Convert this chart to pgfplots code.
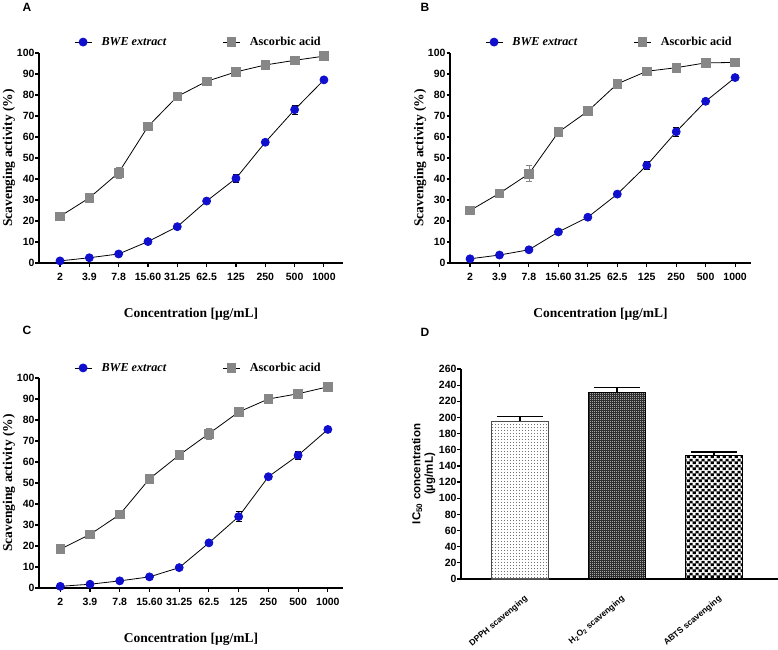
\documentclass[border=0pt]{standalone}
\usepackage{fontspec}
\setmainfont{Liberation Serif}
\setsansfont{Liberation Sans}
\usepackage{pgfplots}
\pgfplotsset{compat=1.18}
\usetikzlibrary{patterns}

\definecolor{bweblue}{RGB}{15,15,205}
\definecolor{aagray}{RGB}{135,135,135}

\pgfdeclarepatterninherentlycolored{dpphpat}{\pgfpointorigin}{\pgfpoint{3pt}{3pt}}{\pgfpoint{3pt}{3pt}}{%
  \pgfsetfillcolor{white}\pgfpathrectangle{\pgfpointorigin}{\pgfpoint{3pt}{3pt}}\pgfusepath{fill}%
  \pgfsetfillcolor{black!55}\pgfpathrectangle{\pgfpointorigin}{\pgfpoint{1.1pt}{1.1pt}}\pgfusepath{fill}}
\pgfdeclarepatterninherentlycolored{h2o2pat}{\pgfpointorigin}{\pgfpoint{2.4pt}{2.4pt}}{\pgfpoint{2.4pt}{2.4pt}}{%
  \pgfsetfillcolor{black!82}\pgfpathrectangle{\pgfpointorigin}{\pgfpoint{2.4pt}{2.4pt}}\pgfusepath{fill}%
  \pgfsetfillcolor{black!35}\pgfpathrectangle{\pgfpointorigin}{\pgfpoint{1.2pt}{1.2pt}}\pgfusepath{fill}}
\pgfdeclarepatterninherentlycolored{abtspat}{\pgfpointorigin}{\pgfpoint{6pt}{6pt}}{\pgfpoint{6pt}{6pt}}{%
  \pgfsetfillcolor{black}\pgfpathrectangle{\pgfpointorigin}{\pgfpoint{6pt}{6pt}}\pgfusepath{fill}%
  \pgfsetfillcolor{white}\pgfpathrectangle{\pgfpointorigin}{\pgfpoint{3pt}{3pt}}\pgfusepath{fill}%
  \pgfpathrectangle{\pgfpoint{3pt}{3pt}}{\pgfpoint{3pt}{3pt}}\pgfusepath{fill}}

\pgfplotsset{
  linepanel/.style={
    anchor=south west, scale only axis, height=210pt,
    axis x line=bottom, axis y line=left,
    axis line style={-, line width=1.3pt},
    ymin=0, ymax=100, ytick={0,10,...,100}, xtick={0,...,9},
    xticklabels={2,3.9,7.8,15.60,31.25,62.5,125,250,500,1000},
    tick align=outside, major tick length=3.5pt,
    tick style={line width=1.1pt, black},
    ticklabel style={font=\fontsize{10.5}{12}\selectfont\sffamily\bfseries},
    xticklabel style={yshift=-3pt},
    yticklabel style={xshift=2.5pt},
    /pgf/number format/assume math mode=true,
    xlabel={Concentration [µg/mL]}, ylabel={Scavenging activity (\%)},
    every axis x label/.style={at={(axis description cs:0.5,0)}, anchor=center, yshift=-51pt,
      font=\fontsize{13.5}{15}\selectfont\bfseries},
    every axis y label/.style={at={(axis description cs:-0.099,0.5)}, rotate=90, anchor=center,
      font=\fontsize{13.5}{15}\selectfont\bfseries},
    legend columns=2,
    legend style={draw=none, fill=none, inner sep=0pt, anchor=west,
      font=\fontsize{12.2}{14}\selectfont\bfseries,
      /tikz/every odd column/.append style={column sep=7.5pt},
      /tikz/every even column/.append style={column sep=54pt}},
    clip=false,
  },
  bwe/.style={black, line width=0.8pt, mark=*, mark size=4pt,
    mark options={fill=bweblue, draw=bweblue},
    error bars/.cd, y dir=both, y explicit,
    error bar style={black, line width=0.8pt},
    error mark options={rotate=90, black, mark size=3pt, line width=0.8pt}},
  aa/.style={black, line width=0.8pt, mark=square*, mark size=4.3pt,
    mark options={fill=aagray, draw=aagray},
    error bars/.cd, y dir=both, y explicit,
    error bar style={aagray, line width=0.8pt},
    error mark options={rotate=90, aagray, mark size=3pt, line width=0.8pt}},
}

\begin{document}
\begin{tikzpicture}
\useasboundingbox (0pt,0pt) rectangle (778pt,649pt);

% Panel letters
\node[font=\fontsize{12}{14}\selectfont\sffamily\bfseries] at (27pt,642pt) {A};
\node[font=\fontsize{12}{14}\selectfont\sffamily\bfseries] at (425pt,642pt) {B};
\node[font=\fontsize{12}{14}\selectfont\sffamily\bfseries] at (27pt,319pt) {C};
\node[font=\fontsize{12}{14}\selectfont\sffamily\bfseries] at (425pt,317pt) {D};

% ---------- A ----------
\begin{axis}[linepanel, at={(39pt,386pt)}, width=304pt, xmin=-0.716, xmax=9.65,
  legend style={at={(0.115,1.052)}}]
\addplot[bwe] coordinates {
 (0,1.0) +- (0,0) (1,2.5) +- (0,0) (2,4.3) +- (0,0) (3,10.2) +- (0,0) (4,17.3) +- (0,0)
 (5,29.5) +- (0,0) (6,40.3) +- (0,2.0) (7,57.5) +- (0,0) (8,73.0) +- (0,2.0) (9,87.2) +- (0,0)};
\addplot[aa] coordinates {
 (0,22.2) +- (0,0) (1,31.0) +- (0,0) (2,43.0) +- (0,2.5) (3,65.0) +- (0,0) (4,79.3) +- (0,0)
 (5,86.5) +- (0,0) (6,91.0) +- (0,0) (7,94.3) +- (0,0) (8,96.5) +- (0,0) (9,98.5) +- (0,0)};
\legend{\textit{BWE extract}, Ascorbic acid}
\end{axis}

% ---------- B ----------
\begin{axis}[linepanel, at={(450pt,386pt)}, width=301pt, xmin=-0.68, xmax=9.54,
  legend style={at={(0.116,1.052)}}]
\addplot[bwe] coordinates {
 (0,2.0) +- (0,0) (1,3.8) +- (0,0) (2,6.3) +- (0,0) (3,14.8) +- (0,0) (4,21.8) +- (0,0)
 (5,32.8) +- (0,0) (6,46.5) +- (0,2.0) (7,62.5) +- (0,2.0) (8,77.0) +- (0,0) (9,88.3) +- (0,0)};
\addplot[aa] coordinates {
 (0,25.0) +- (0,0) (1,33.2) +- (0,0) (2,42.5) +- (0,3.8) (3,62.3) +- (0,0) (4,72.3) +- (0,2.0)
 (5,85.3) +- (0,0) (6,91.3) +- (0,0) (7,93.0) +- (0,0) (8,95.3) +- (0,0) (9,95.5) +- (0,0)};
\legend{\textit{BWE extract}, Ascorbic acid}
\end{axis}

% ---------- C ----------
\begin{axis}[linepanel, at={(39pt,61pt)}, width=304pt, xmin=-0.716, xmax=9.51,
  legend style={at={(0.115,1.048)}}]
\addplot[bwe] coordinates {
 (0,0.8) +- (0,0) (1,1.8) +- (0,0) (2,3.4) +- (0,0) (3,5.3) +- (0,0) (4,9.7) +- (0,0)
 (5,21.5) +- (0,0) (6,34.0) +- (0,2.5) (7,53.0) +- (0,0) (8,63.2) +- (0,2.0) (9,75.5) +- (0,0)};
\addplot[aa] coordinates {
 (0,18.5) +- (0,0) (1,25.5) +- (0,0) (2,35.0) +- (0,0) (3,52.0) +- (0,0) (4,63.3) +- (0,0)
 (5,73.5) +- (0,2.5) (6,83.8) +- (0,0) (7,90.0) +- (0,0) (8,92.5) +- (0,0) (9,95.8) +- (0,0)};
\legend{\textit{BWE extract}, Ascorbic acid}
\end{axis}

% ---------- D ----------
\begin{axis}[at={(461pt,70pt)}, anchor=south west, scale only axis,
  width=317pt, height=210pt,
  axis x line=bottom, axis y line=left,
  axis line style={-, line width=1.6pt},
  xmin=-0.608, xmax=2.66, ymin=0, ymax=260, ytick={0,20,...,260},
  xtick={0,1,2},
  xticklabels={DPPH scavenging, H\textsubscript{2}O\textsubscript{2} scavenging, ABTS scavenging},
  tick align=outside, major tick length=4pt,
  ytick style={line width=1.2pt, black}, xtick style={draw=none},
  yticklabel style={font=\fontsize{10.5}{12}\selectfont\sffamily\bfseries, xshift=3pt},
  xticklabel style={font=\fontsize{8.5}{10}\selectfont\sffamily\bfseries, rotate=40, anchor=north east, xshift=-1pt, yshift=-8pt},
  /pgf/number format/assume math mode=true,
  ylabel={IC\textsubscript{50} concentration\\(µg/mL)},
  every axis y label/.style={at={(axis description cs:-0.118,0.5)}, rotate=90, anchor=center,
    align=center, font=\fontsize{11.5}{12.5}\selectfont\sffamily\bfseries},
  ybar, bar width=57pt, clip=false,
]
\addplot[bar shift=0pt, draw=black!70, line width=1pt, pattern=dpphpat,
  error bars/.cd, y dir=plus, y explicit,
  error bar style={black, line width=1.3pt},
  error mark options={rotate=90, black, mark size=23pt, line width=1.3pt}]
  coordinates {(0,195.5) +- (0,6.0)};
\addplot[bar shift=0pt, draw=black, line width=1.2pt, pattern=h2o2pat,
  error bars/.cd, y dir=plus, y explicit,
  error bar style={black, line width=1.3pt},
  error mark options={rotate=90, black, mark size=23pt, line width=1.3pt}]
  coordinates {(1,230.5) +- (0,6.5)};
\addplot[bar shift=0pt, draw=black, line width=1.2pt, pattern=abtspat,
  error bars/.cd, y dir=plus, y explicit,
  error bar style={black, line width=1.3pt},
  error mark options={rotate=90, black, mark size=23pt, line width=1.3pt}]
  coordinates {(2,153.2) +- (0,4.2)};
\end{axis}
\end{tikzpicture}
\end{document}
